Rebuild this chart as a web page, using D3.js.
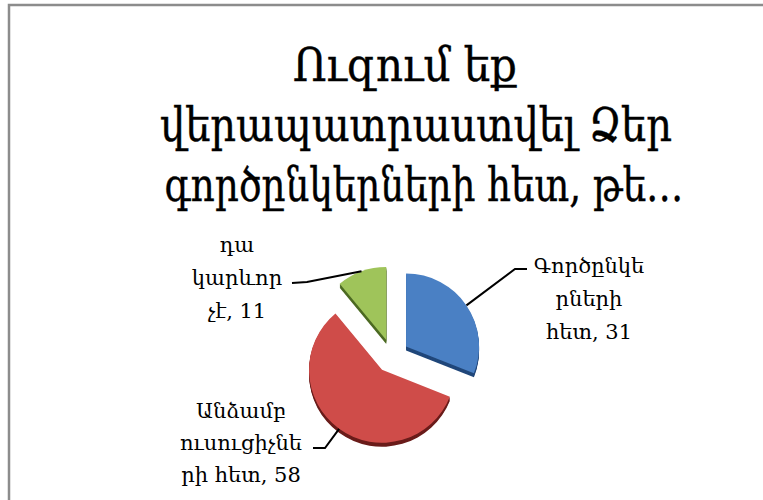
<!DOCTYPE html>
<html>
<head>
<meta charset="utf-8">
<script src="https://cdn.jsdelivr.net/npm/d3@7"></script>
<style>
  html, body { margin: 0; padding: 0; background: #fff; }
  svg { display: block; }
</style>
</head>
<body>
<svg id="chart" width="763" height="500"></svg>
<script>
// Survey answers
const categories = ["Գործընկերների հետ", "Անձամբ ուսուցիչների հետ", "դա կարևոր չէ"];
const values = [31, 58, 11];
// Category names broken over lines for the data labels
const labelWraps = [
  ["Գործընկե", "րների", "հետ"],
  ["Անձամբ", "ուսուցիչնե", "րի հետ"],
  ["դա", "կարևոր", "չէ"]
];
const titleLines = ["Ուզում եք", "վերապատրաստվել Ձեր", "գործընկերների հետ, թե…"];

const sliceColors = [
  { top: "#4a80c4", bottom: "#2d5d9c", side: "#20477a" },
  { top: "#cf4c49", bottom: "#8e2927", side: "#6a1c1a" },
  { top: "#9fc45a", bottom: "#6a8e33", side: "#4c6a22" }
];

const svg = d3.select("#chart");
const W = 763, H = 500;
const FONT = "'DejaVu Serif', serif";

// Chart frame
svg.append("rect")
  .attr("x", 9).attr("y", 5)
  .attr("width", W + 20).attr("height", H + 20)
  .attr("fill", "#fff")
  .attr("stroke", "#8c8c8c").attr("stroke-width", 2.5);

// Title
const title = svg.append("g").attr("font-family", FONT).attr("fill", "#000");
const titleY = [81, 141, 201];
const titleW = [224, 512, 519];
const titleX = [405, 416, 424];
titleLines.forEach((t, i) => {
  title.append("text")
    .attr("x", titleX[i]).attr("y", titleY[i])
    .attr("text-anchor", "middle")
    .attr("font-size", 46)
    .attr("stroke", "#000").attr("stroke-width", 0.4)
    .attr("textLength", titleW[i])
    .attr("lengthAdjust", "spacingAndGlyphs")
    .text(t);
});

// Pie geometry
const cx = 392, cy = 356, R = 73, explode = 17, depth = 4;
const pie = d3.pie().sort(null).startAngle(0).endAngle(2 * Math.PI);
const arcs = pie(values);
const arc = d3.arc().innerRadius(0).outerRadius(R);

const defs = svg.append("defs");
sliceColors.forEach((c, i) => {
  const g = defs.append("linearGradient")
    .attr("id", "grad" + i)
    .attr("gradientUnits", "userSpaceOnUse")
    .attr("x1", cx - R).attr("y1", cy - R - 20)
    .attr("x2", cx + R * 0.3).attr("y2", cy + R + 20);
  g.append("stop").attr("offset", "0%").attr("stop-color", c.top);
  g.append("stop").attr("offset", "100%").attr("stop-color", c.bottom);
});

const mid = d => (d.startAngle + d.endAngle) / 2;
const offset = d => [Math.sin(mid(d)) * explode, -Math.cos(mid(d)) * explode];

const pieG = svg.append("g").attr("transform", `translate(${cx},${cy})`);
arcs.forEach((d, i) => {
  const [ox, oy] = offset(d);
  const g = pieG.append("g").attr("transform", `translate(${ox},${oy})`);
  // thickness of the disc
  for (let k = depth; k >= 1; k--) {
    g.append("path").attr("d", arc(d))
      .attr("transform", `translate(0,${k})`)
      .attr("fill", sliceColors[i].side);
  }
  g.append("path").attr("d", arc(d))
    .attr("fill", `url(#grad${i})`);
});

// Leader lines and data labels
const leaders = [
  { elbow: [515, 269], end: [527, 269] },
  { elbow: [325, 448], end: [313, 448] },
  { elbow: [307, 282], end: [292, 283] }
];
const labelPos = [
  { x: 589, y: [273, 306, 339] },
  { x: 241, y: [418, 450, 482] },
  { x: 237, y: [252, 285, 318] }
];
arcs.forEach((d, i) => {
  const [ox, oy] = offset(d);
  const a = mid(d);
  const p0 = [cx + ox + Math.sin(a) * R, cy + oy - Math.cos(a) * R];
  const L = leaders[i];
  svg.append("path")
    .attr("d", d3.line()([p0, L.elbow, L.end]))
    .attr("fill", "none").attr("stroke", "#000").attr("stroke-width", 2);

  const lines = labelWraps[i].slice();
  lines[lines.length - 1] = lines[lines.length - 1] + ", " + values[i];
  const t = svg.append("text")
    .attr("font-family", FONT).attr("font-size", 21)
    .attr("text-anchor", "middle").attr("fill", "#000");
  lines.forEach((s, j) => {
    t.append("tspan").attr("x", labelPos[i].x).attr("y", labelPos[i].y[j]).text(s);
  });
});
</script>
</body>
</html>
